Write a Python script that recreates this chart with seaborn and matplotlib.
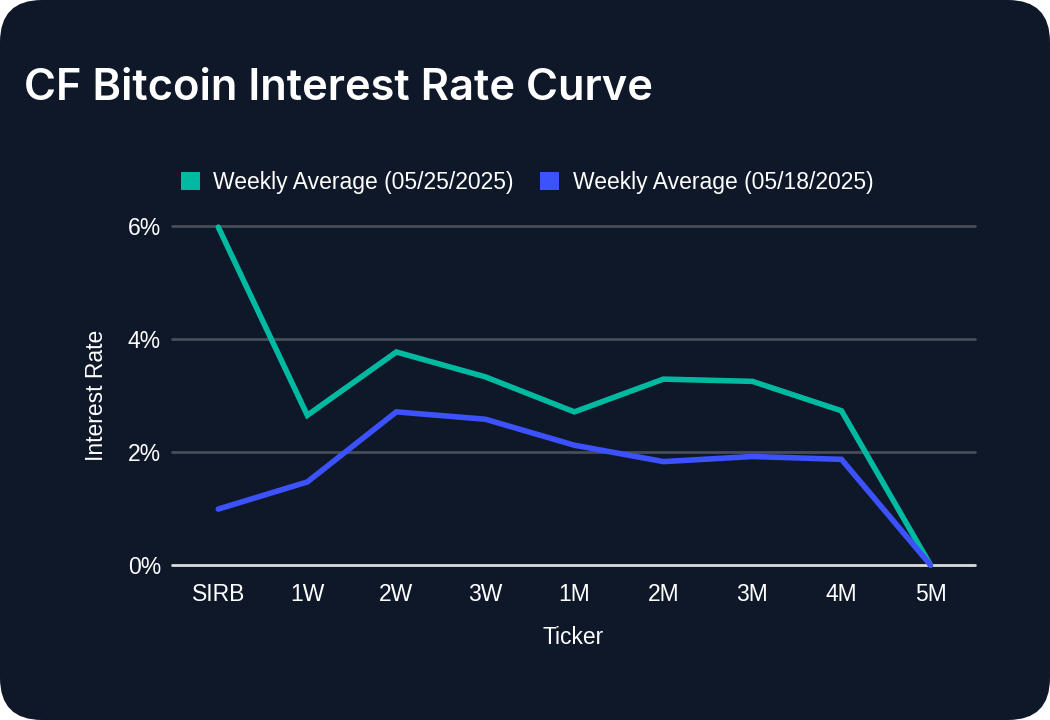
import matplotlib
matplotlib.use("Agg")
import matplotlib.pyplot as plt
import seaborn as sns
import pandas as pd
from matplotlib.patches import FancyBboxPatch, Patch
from matplotlib.ticker import FuncFormatter

tickers = ["SIRB", "1W", "2W", "3W", "1M", "2M", "3M", "4M", "5M"]
week_0525 = [5.98, 2.65, 3.77, 3.33, 2.71, 3.29, 3.25, 2.73, 0.0]
week_0518 = [0.99, 1.47, 2.71, 2.58, 2.12, 1.83, 1.92, 1.87, 0.0]
series_names = ["Weekly Average (05/25/2025)", "Weekly Average (05/18/2025)"]
colors = ["#00b9a1", "#3d52ff"]

df = pd.DataFrame({
    "Ticker": tickers * 2,
    "Rate": week_0525 + week_0518,
    "Series": [series_names[0]] * len(tickers) + [series_names[1]] * len(tickers),
})

sns.set_theme(style="dark")
plt.rcParams['font.family'] = ['Liberation Sans', 'DejaVu Sans']

BG = "#0f1829"
FS = 16.5
fig = plt.figure(figsize=(10.5, 7.2), dpi=100)
fig.patch.set_facecolor("white")
card = FancyBboxPatch((0, 0), 1, 1, boxstyle="round,pad=0,rounding_size=0.04",
                      transform=fig.transFigure, facecolor=BG, edgecolor="none",
                      mutation_aspect=1050/720, zorder=-10)
fig.patches.append(card)

ax = fig.add_axes([172/1050, 1-565/720, (975-172)/1050, (565-226)/720])
ax.set_facecolor("none")
ax.set_zorder(1)

sns.lineplot(data=df, x="Ticker", y="Rate", hue="Series", palette=colors,
             linewidth=4, ax=ax, legend=False, sort=False, zorder=3)
for ln in ax.lines:
    ln.set_clip_on(False)
    ln.set_solid_joinstyle("miter")

ax.set_xlim(-0.52, 8.5)
ax.set_ylim(0, 6)
ax.set_yticks([0, 2, 4, 6])
ax.yaxis.set_major_formatter(FuncFormatter(lambda v, p: f"{v:.0f}%"))
ax.grid(False)
for y in [2, 4, 6]:
    ax.axhline(y, color="#464c58", linewidth=2, zorder=1, clip_on=False)
ax.axhline(0, color="#dcdcdc", linewidth=2, zorder=2, clip_on=False)
for s in ax.spines.values():
    s.set_visible(False)

ax.tick_params(axis="both", colors="white", labelsize=FS, length=0)
ax.tick_params(axis="y", pad=8)
ax.tick_params(axis="x", pad=13)
ax.set_xlabel("Ticker", color="white", fontsize=FS, labelpad=14)
ax.set_ylabel("Interest Rate", color="white", fontsize=FS, labelpad=14)

fig.text(24/1050, 1-88/720, "CF Bitcoin Interest Rate Curve", color="white",
         fontsize=31.3, fontweight=600, family=["Inter", "DejaVu Sans"],
         va="center", ha="left")

handles = [Patch(facecolor=c, edgecolor="none") for c in colors]
fig.legend(handles, series_names, loc="center", bbox_to_anchor=(527/1050, 1-182/720),
           ncol=2, frameon=False, fontsize=FS, labelcolor="white",
           handlelength=0.83, handleheight=0.83, handletextpad=0.57, columnspacing=1.18)

fig.savefig("out.png", dpi=100, facecolor=fig.get_facecolor())
